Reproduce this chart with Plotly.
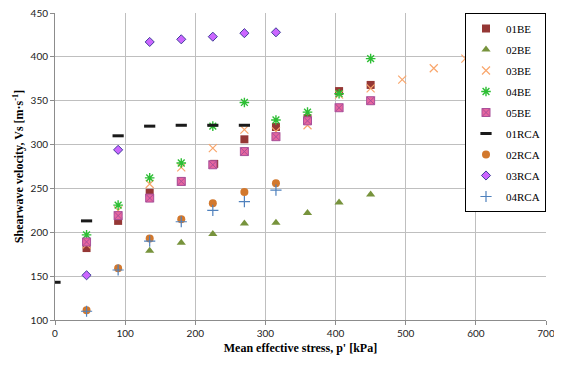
import plotly.graph_objects as go

# Data
be01_p = [45, 90, 135, 180, 227, 270, 315, 360, 405, 450]
be01_v = [182, 213, 245, 258, 278, 306, 320, 330, 361, 368]

be02_p = [135, 180, 225, 270, 315, 360, 405, 450]
be02_v = [179, 188, 198, 210, 211, 222, 234, 243]

be03_p = [45, 90, 135, 180, 225, 270, 315, 360, 405, 450, 495, 540, 585]
be03_v = [186, 225, 255, 274, 296, 317, 315, 322, 357, 364, 374, 387, 398]

be04_p = [45, 90, 135, 180, 225, 270, 315, 360, 405, 450]
be04_v = [197, 231, 262, 279, 321, 348, 328, 337, 358, 398]

be05_p = [45, 90, 135, 180, 225, 270, 315, 360, 405, 450]
be05_v = [189, 219, 239, 258, 277, 292, 309, 327, 342, 350]

rca01_p = [0, 45, 90, 135, 180, 225, 270]
rca01_v = [143, 213, 310, 321, 322, 322, 322]

rca02_p = [45, 90, 135, 180, 225, 270, 315]
rca02_v = [111, 159, 193, 215, 233, 246, 256]

rca03_p = [45, 90, 135, 180, 225, 270, 315]
rca03_v = [151, 294, 417, 420, 423, 427, 428]

rca04_p = [45, 90, 135, 180, 225, 270, 315]
rca04_v = [110, 157, 190, 212, 225, 235, 248]

x_ticks = [0, 100, 200, 300, 400, 500, 600, 700]
y_ticks = [100, 150, 200, 250, 300, 350, 400, 450]

fig = go.Figure()

def add(name, xs, ys, marker):
    fig.add_trace(go.Scatter(x=xs, y=ys, mode="markers", name=name,
                             legendgroup=name, marker=marker))

add("01BE", be01_p, be01_v, dict(symbol="square", size=8, color="#953735"))
add("02BE", be02_p, be02_v, dict(symbol="triangle-up", size=8, color="#77933C"))
add("03BE", be03_p, be03_v, dict(symbol="x-thin-open", size=8, color="#F9A66C",
                                 line=dict(color="#F9A66C", width=1.2)))
add("04BE", be04_p, be04_v, dict(symbol="asterisk-open", size=8, color="#2DBE34",
                                 line=dict(color="#2DBE34", width=1.4)))
add("05BE", be05_p, be05_v, dict(symbol="square-x", size=8, color="#E8659E",
                                 line=dict(color="#A8509A", width=1)))
add("01RCA", rca01_p, rca01_v, dict(symbol="line-ew-open", size=8, color="#1A1A1A",
                                   line=dict(color="#1A1A1A", width=3)))
add("02RCA", rca02_p, rca02_v, dict(symbol="circle", size=8, color="#D2782D"))
add("03RCA", rca03_p, rca03_v, dict(symbol="diamond", size=7, color="#CC66FF",
                                   line=dict(color="#3F3F9A", width=1)))
add("04RCA", rca04_p, rca04_v, dict(symbol="cross-thin-open", size=8, color="#4F81BD",
                                   line=dict(color="#4F81BD", width=1.2)))

axis_common = dict(
    showgrid=True, gridcolor="#BFBFBF", gridwidth=1.3,
    showline=True, linecolor="#8C8C8C", linewidth=1,
    ticks="outside", ticklen=4, tickcolor="#8C8C8C",
    tickfont=dict(family="Lato", size=10, color="#222222"),
    zeroline=False, automargin=False, ticklabeloverflow="allow",
)

fig.update_layout(
    width=546, height=350,
    margin=dict(l=47, r=8, t=5, b=38),
    paper_bgcolor="white", plot_bgcolor="white",
    xaxis=dict(range=[0, 700], tickvals=x_ticks,
               title=dict(text="<b>Mean effective stress, p' [kPa]</b>", standoff=5,
                          font=dict(family="Liberation Serif", size=12, color="black")),
               **axis_common),
    yaxis=dict(range=[100, 450], tickvals=y_ticks,
               title=dict(text="<b>Shearwave velocity, Vs [m·s<sup>-1</sup>]</b>", standoff=4,
                          font=dict(family="Liberation Serif", size=12, color="black")),
               **axis_common),
    legend=dict(x=1, y=1, xanchor="right", yanchor="top",
                bgcolor="white", bordercolor="black", borderwidth=1,
                font=dict(family="Liberation Serif", size=11, color="black"),
                itemwidth=30, tracegroupgap=2),
    showlegend=True,
)

fig.write_html("out.html")
